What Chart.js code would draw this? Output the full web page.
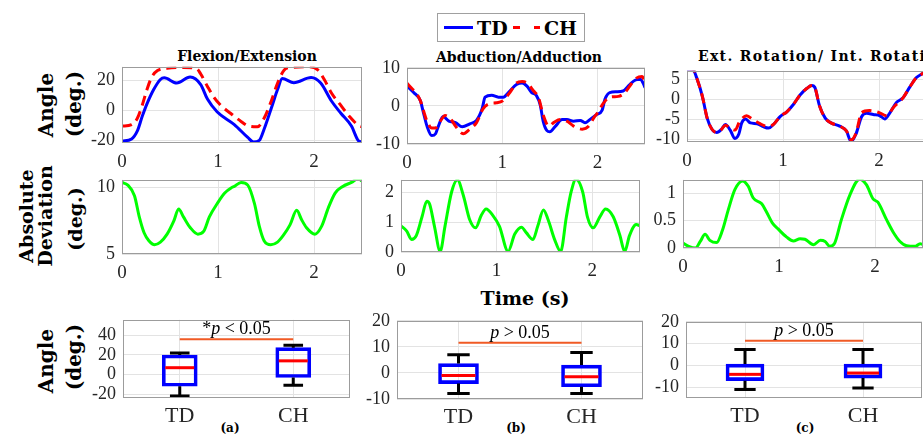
<!DOCTYPE html>
<html>
<head>
<meta charset="utf-8">
<script src="https://cdn.jsdelivr.net/npm/chart.js@4.4.1/dist/chart.umd.min.js"></script>
<style>
  body { margin: 0; background: #fff; }
  #fig { position: relative; width: 923px; height: 435px; overflow: hidden; background: #fff; }
  .lbl { position: absolute; white-space: nowrap; font-family: 'DejaVu Serif', serif; font-weight: bold; color: #000; transform: translate(-50%, -50%); line-height: 1; }
  .rot { transform: translate(-50%, -50%) rotate(-90deg); }
  #legend { position: absolute; left: 437px; top: 13px; width: 146px; height: 27px; border: 1px solid #a0a0a0; background: #fff; }
  #legend .sw { position: absolute; top: 12px; height: 0; }
  #legend .tx { position: absolute; top: 0; line-height: 28px; font-family: 'DejaVu Serif', serif; font-weight: bold; font-size: 19px; }
</style>
</head>
<body>
<div id="fig">
  <div id="legend">
    <span class="sw" style="left:6px;width:29px;border-top:3px solid #0000ff"></span>
    <span class="tx" style="left:39px">TD</span>
    <span class="sw" style="left:75px;width:7px;border-top:3px solid #ff0000"></span>
    <span class="sw" style="left:96px;width:6px;border-top:3px solid #ff0000"></span>
    <span class="tx" style="left:106px">CH</span>
  </div>

  <div class="lbl" style="left:247px;top:56px;font-size:14px">Flexion/Extension</div>
  <div class="lbl" style="left:519px;top:57px;font-size:14px">Abduction/Adduction</div>
  <div class="lbl" style="left:698px;top:56px;font-size:14px;letter-spacing:1.3px;transform:translate(0,-50%)">Ext. Rotation/ Int. Rotation</div>

  <div class="lbl rot" style="left:46px;top:105px;font-size:20px">Angle</div>
  <div class="lbl rot" style="left:74px;top:104px;font-size:20px">(deg.)</div>
  <div class="lbl rot" style="left:26px;top:216px;font-size:19px">Absolute</div>
  <div class="lbl rot" style="left:45px;top:216px;font-size:19px">Deviation</div>
  <div class="lbl rot" style="left:75px;top:219px;font-size:19px">(deg.)</div>
  <div class="lbl rot" style="left:46px;top:361px;font-size:20px">Angle</div>
  <div class="lbl rot" style="left:74px;top:357px;font-size:20px">(deg.)</div>

  <div class="lbl" style="left:525px;top:298px;font-size:19px">Time (s)</div>
  <div class="lbl" style="left:230px;top:428px;font-size:12px">(a)</div>
  <div class="lbl" style="left:516px;top:428px;font-size:12px">(b)</div>
  <div class="lbl" style="left:805px;top:428px;font-size:12px">(c)</div>
</div>

<script>
// ---- data ----
const timeTicks = [0, 1, 2];
const groups = ['TD', 'CH'];

// Flexion/Extension angle
const flexTimeTD = [0, 0.1, 0.16, 0.21, 0.26, 0.33, 0.4, 0.44, 0.57, 0.71, 0.82, 0.89, 0.99, 1.17, 1.31, 1.37, 1.43, 1.48, 1.52, 1.57, 1.62, 1.67, 1.79, 1.97, 2.07, 2.18, 2.28, 2.39, 2.46, 2.5];
const flexTD = [-20.5, -19, -13.7, -4.2, 4.2, 13.7, 20.4, 21.5, 18, 22, 17, 7.4, -1, -9.5, -18, -21, -20, -12.6, -5.3, 4.2, 13.7, 21, 18.3, 21.7, 18, 6.3, -2, -10.5, -20, -21];
const flexTimeCH = [0, 0.1, 0.16, 0.21, 0.26, 0.31, 0.37, 0.47, 0.64, 0.78, 0.82, 0.89, 0.96, 1.03, 1.13, 1.24, 1.32, 1.41, 1.48, 1.55, 1.62, 1.69, 1.76, 1.93, 2.04, 2.11, 2.18, 2.28, 2.37, 2.46, 2.5];
const flexCH = [-10.5, -9.5, -5.3, 3.2, 13.7, 22, 26.3, 27.8, 28.4, 27.4, 24, 15.8, 8.4, 3.2, -2, -7.4, -10.5, -11, -5.3, 5.3, 17.9, 26.7, 28.4, 28.8, 26.7, 20, 11.6, 3.2, -4.2, -9.9, -11];

// Abduction/Adduction angle
const abdTimeTD = [0, 0.07, 0.14, 0.17, 0.21, 0.26, 0.3, 0.33, 0.38, 0.44, 0.51, 0.58, 0.66, 0.73, 0.79, 0.82, 0.89, 0.96, 1.01, 1.08, 1.15, 1.21, 1.26, 1.31, 1.36, 1.4, 1.43, 1.47, 1.5, 1.56, 1.63, 1.68, 1.75, 1.82, 1.87, 1.92, 1.99, 2.05, 2.08, 2.13, 2.2, 2.27, 2.34, 2.4, 2.45, 2.48, 2.5];
const abdTD = [5.2, 3.5, 1.4, -1.5, -5.3, -7.8, -7.3, -5.3, -2.8, -4, -4.4, -5.5, -4.7, -3.8, -0.7, 2.3, 2.8, 2.3, 2.3, 3.9, 5.6, 6, 5.2, 3.5, 2.7, 0.2, -4, -6.5, -6.8, -5.3, -3.6, -3.6, -4, -3.8, -4.4, -3.6, -2.3, -1.1, 1.8, 3.5, 3.7, 3.9, 5.6, 6.8, 7, 6, 4.8];
const abdTimeCH = [0, 0.14, 0.17, 0.21, 0.26, 0.3, 0.35, 0.4, 0.45, 0.51, 0.56, 0.59, 0.66, 0.73, 0.8, 0.87, 0.94, 1.01, 1.08, 1.15, 1.21, 1.26, 1.33, 1.38, 1.43, 1.49, 1.54, 1.61, 1.68, 1.75, 1.84, 1.91, 1.96, 2.01, 2.06, 2.13, 2.22, 2.29, 2.34, 2.41, 2.47, 2.5];
const abdCH = [6, 1.4, -1, -4, -5.8, -5.8, -4, -2.5, -3.2, -5.3, -6.9, -7.3, -6.1, -4.4, -0.7, 0.6, 0.8, 1.4, 3.5, 6, 6.4, 6, 3.9, 2.3, -2.3, -5.3, -4.4, -3.6, -4, -5.3, -6.1, -5.3, -3.2, -1.5, 0.6, 2.3, 2.5, 3.5, 5.2, 7.3, 7.7, 6];

// Ext./Int. rotation angle
const rotTimeTD = [0, 0.07, 0.1, 0.16, 0.21, 0.26, 0.31, 0.36, 0.4, 0.45, 0.5, 0.54, 0.57, 0.61, 0.66, 0.73, 0.8, 0.85, 0.9, 0.97, 1.04, 1.11, 1.18, 1.25, 1.3, 1.33, 1.38, 1.44, 1.5, 1.59, 1.66, 1.71, 1.76, 1.82, 1.87, 1.94, 2.01, 2.06, 2.11, 2.18, 2.25, 2.32, 2.39, 2.44, 2.5];
const rotTD = [7.5, 7.2, 5.5, 0.8, -4.7, -7.5, -8.3, -7.5, -6.3, -7.7, -9.8, -8.7, -5.9, -4.9, -5.9, -6.1, -6.9, -7.2, -6.3, -4.3, -3.1, -1.2, 1.2, 2.8, 3.5, 3.1, -1.6, -4.7, -5.9, -6.7, -7.9, -10.6, -8.7, -4.3, -3.5, -3.8, -4.1, -4.9, -3.5, -0.8, 0.4, 3.1, 5.5, 6.3, 7];
const rotTimeCH = [0, 0.07, 0.1, 0.16, 0.21, 0.26, 0.31, 0.36, 0.4, 0.45, 0.5, 0.55, 0.62, 0.69, 0.76, 0.83, 0.9, 0.97, 1.04, 1.11, 1.18, 1.25, 1.3, 1.33, 1.38, 1.44, 1.5, 1.59, 1.66, 1.71, 1.76, 1.82, 1.9, 2.0, 2.08, 2.15, 2.25, 2.32, 2.39, 2.44, 2.5];
const rotCH = [7.7, 7.5, 5.5, 0.8, -4.7, -7.5, -8.3, -7.5, -6.5, -7.2, -7.7, -5.5, -4.1, -5.1, -6.1, -6.7, -6.3, -4.3, -3.1, -1.2, 1.2, 2.8, 3.5, 3.1, -1.6, -4.7, -5.9, -6.7, -7.9, -10.2, -8.5, -3.3, -2.8, -3.3, -4.1, -2, 0.4, 3.1, 5.5, 6.3, 7];

// absolute deviation between TD and CH
const flexDevTime = [0, 0.06, 0.13, 0.18, 0.23, 0.28, 0.34, 0.4, 0.47, 0.54, 0.59, 0.64, 0.71, 0.79, 0.85, 0.91, 1.0, 1.07, 1.14, 1.17, 1.24, 1.31, 1.38, 1.43, 1.48, 1.55, 1.62, 1.68, 1.75, 1.82, 1.87, 1.92, 2.01, 2.08, 2.15, 2.22, 2.3, 2.39, 2.46, 2.5];
const flexDev = [10.4, 10.2, 9.4, 7.8, 6.6, 6, 5.7, 5.9, 6.5, 7.5, 8.4, 7.8, 7, 6.5, 6.7, 7.8, 8.9, 9.6, 10, 10.1, 10.4, 10.2, 8.8, 7.1, 6, 5.7, 5.9, 6.4, 7.2, 8.3, 7.6, 7, 6.5, 7.1, 8.5, 9.6, 10.1, 10.4, 10.7, 10.5];
const abdDevTime = [0, 0.06, 0.11, 0.16, 0.22, 0.27, 0.3, 0.35, 0.41, 0.46, 0.53, 0.59, 0.65, 0.72, 0.78, 0.84, 0.89, 0.96, 1.03, 1.12, 1.19, 1.26, 1.31, 1.38, 1.43, 1.49, 1.54, 1.61, 1.67, 1.73, 1.78, 1.83, 1.9, 1.95, 2.01, 2.08, 2.14, 2.22, 2.29, 2.34, 2.39, 2.46, 2.5];
const abdDev = [0.88, 0.7, 0.42, 0.55, 1.18, 1.7, 1.6, 0.86, 0.02, 0.86, 2.02, 2.42, 1.92, 1.07, 0.81, 1.23, 1.44, 1.23, 0.86, 0.02, 0.6, 0.83, 0.65, 0.42, 0.86, 1.41, 1.07, 0.39, 0.02, 1.18, 2.02, 2.44, 2.02, 1.18, 0.81, 1.18, 1.44, 1.18, 0.55, 0.02, 0.55, 0.92, 0.88];
const rotDevTime = [0, 0.06, 0.13, 0.18, 0.23, 0.28, 0.35, 0.41, 0.47, 0.54, 0.62, 0.68, 0.73, 0.82, 0.87, 0.93, 0.99, 1.08, 1.15, 1.22, 1.27, 1.36, 1.43, 1.48, 1.53, 1.58, 1.65, 1.74, 1.84, 1.91, 1.98, 2.03, 2.12, 2.19, 2.26, 2.33, 2.42, 2.47, 2.5];
const rotDev = [0.09, 0.03, 0, 0.12, 0.25, 0.14, 0.1, 0.32, 0.69, 1.07, 1.23, 1.13, 0.92, 0.81, 0.66, 0.46, 0.35, 0.2, 0.13, 0.17, 0.16, 0.06, 0.14, 0.12, 0.03, 0.09, 0.52, 0.98, 1.26, 1.16, 0.9, 0.84, 0.52, 0.29, 0.12, 0.04, 0.03, 0.08, 0.06];

// box plots: [min, q1, median, q3, max]
const flexBoxTD = [-22, -12, 7, 20, 22];
const flexBoxCH = [-11, -3, 14, 27.5, 30];
const abdBoxTD = [-7.9, -4.1, -1, 3.6, 7];
const abdBoxCH = [-7.9, -5.3, -1.5, 3, 7.8];
const rotBoxTD = [-10.9, -6.9, -4, 0.7, 7.4];
const rotBoxCH = [-10.2, -5.7, -3.4, 0.7, 7.4];
const pLineY = [36, 11.6, 11.4];

// y tick labels per panel
const flexTicks = [-20, 0, 20];
const abdTicks = [-10, 0, 10];
const rotTicks = [-10, -5, 0, 5];
const flexDevTicks = [5, 10];
const abdDevTicks = [0, 1, 2];
const rotDevTicks = [0, 0.5, 1];
const flexBoxTicks = [-20, 0, 20, 40];
const boxTicks = [-10, 0, 10, 20];

// ---- drawing ----
const SERIF = "'Liberation Serif', 'DejaVu Serif', serif";
const GRID = '#e3e3e3';
const TICK = '#262626';
const PAD = { l: 50, t: 14, r: 14, b: 34 };

function pts(ts, vs) { return ts.map((t, i) => ({ x: t, y: vs[i] })); }

function makeCanvas(rect) {
  const c = document.createElement('canvas');
  const w = rect[2] - rect[0] + PAD.l + PAD.r;
  const h = rect[3] - rect[1] + PAD.t + PAD.b;
  c.width = w; c.height = h;
  c.style.cssText = 'position:absolute;left:' + (rect[0] - PAD.l) + 'px;top:' + (rect[1] - PAD.t) + 'px;width:' + w + 'px;height:' + h + 'px';
  document.getElementById('fig').appendChild(c);
  return c;
}

const framePlugin = {
  id: 'frame',
  afterDraw(chart) {
    const a = chart.chartArea, ctx = chart.ctx;
    ctx.save();
    ctx.strokeStyle = '#9c9c9c';
    ctx.lineWidth = 1;
    ctx.strokeRect(Math.round(a.left) + 0.5, Math.round(a.top) + 0.5, Math.round(a.right - a.left) - 1, Math.round(a.bottom - a.top) - 1);
    ctx.restore();
  }
};

function yScale(min, max, ticks) {
  return {
    min: min, max: max, bounds: 'data',
    afterBuildTicks: s => { s.ticks = ticks.map(v => ({ value: v })); },
    afterFit: s => { s.width = PAD.l; },
    grid: { color: GRID, drawTicks: false },
    border: { display: false },
    ticks: { padding: 7, color: TICK, autoSkip: false, callback: v => String(v), font: { family: SERIF, size: 18 } }
  };
}

function lineChart(rect, yMin, yMax, yTicks, datasets) {
  new Chart(makeCanvas(rect), {
    type: 'line',
    data: { datasets: datasets },
    options: {
      responsive: false, animation: false, devicePixelRatio: 1,
      layout: { padding: { left: 0, top: PAD.t, right: PAD.r, bottom: 0 } },
      plugins: { legend: { display: false }, tooltip: { enabled: false } },
      elements: { point: { radius: 0 }, line: { cubicInterpolationMode: 'monotone', borderCapStyle: 'butt' } },
      scales: {
        x: {
          type: 'linear', min: 0, max: 2.5, bounds: 'data',
          afterBuildTicks: s => { s.ticks = timeTicks.map(v => ({ value: v })); },
          afterFit: s => { s.height = PAD.b; },
          grid: { color: GRID, drawTicks: false },
          border: { display: false },
          ticks: { padding: 8, color: TICK, autoSkip: false, maxRotation: 0, callback: v => String(v), font: { family: SERIF, size: 19 } }
        },
        y: yScale(yMin, yMax, yTicks)
      }
    },
    plugins: [framePlugin]
  });
}

// Chart.js paints the first dataset last, so CH goes first to sit on top of TD
function tdLine(ts, vs) { return { data: pts(ts, vs), borderColor: '#0000ff', borderWidth: 3 }; }
function chLine(ts, vs) { return { data: pts(ts, vs), borderColor: '#ff0000', borderWidth: 3, borderDash: [10, 6] }; }
function devLine(ts, vs) { return { data: pts(ts, vs), borderColor: '#00ff00', borderWidth: 3 }; }

function boxChart(rect, yMin, yMax, yTicks, boxes, pY, pText, boxW) {
  const boxPlugin = {
    id: 'boxExtras',
    afterDatasetsDraw(chart) {
      const ctx = chart.ctx, xs = chart.scales.x, ys = chart.scales.y;
      const cap = boxW * 0.28;
      ctx.save();
      boxes.forEach((b, i) => {
        const x = xs.getPixelForValue(i);
        ctx.strokeStyle = '#000';
        ctx.lineWidth = 3;
        ctx.beginPath();
        ctx.moveTo(x, ys.getPixelForValue(b[3])); ctx.lineTo(x, ys.getPixelForValue(b[4]));
        ctx.moveTo(x - cap, ys.getPixelForValue(b[4])); ctx.lineTo(x + cap, ys.getPixelForValue(b[4]));
        ctx.moveTo(x, ys.getPixelForValue(b[1])); ctx.lineTo(x, ys.getPixelForValue(b[0]));
        ctx.moveTo(x - cap, ys.getPixelForValue(b[0])); ctx.lineTo(x + cap, ys.getPixelForValue(b[0]));
        ctx.stroke();
        ctx.strokeStyle = '#ff0000';
        ctx.beginPath();
        ctx.moveTo(x - boxW / 2 + 3, ys.getPixelForValue(b[2]));
        ctx.lineTo(x + boxW / 2 - 3, ys.getPixelForValue(b[2]));
        ctx.stroke();
      });
      // significance bar
      const x0 = xs.getPixelForValue(0), x1 = xs.getPixelForValue(1), y = ys.getPixelForValue(pY);
      ctx.strokeStyle = '#f05a24';
      ctx.lineWidth = 2;
      ctx.beginPath(); ctx.moveTo(x0, y); ctx.lineTo(x1, y); ctx.stroke();
      ctx.fillStyle = '#000';
      ctx.textBaseline = 'alphabetic';
      const fonts = pText.map(p => (p[1] ? 'italic ' : '') + '18px ' + SERIF);
      let total = 0;
      pText.forEach((p, k) => { ctx.font = fonts[k]; total += ctx.measureText(p[0]).width; });
      let cx = (x0 + x1) / 2 - total / 2;
      pText.forEach((p, k) => { ctx.font = fonts[k]; ctx.fillText(p[0], cx, y - 5); cx += ctx.measureText(p[0]).width; });
      ctx.restore();
    }
  };
  new Chart(makeCanvas(rect), {
    type: 'bar',
    data: {
      labels: groups,
      datasets: [{
        data: boxes.map(b => [b[1], b[3]]),
        backgroundColor: 'rgba(0,0,0,0)', borderColor: '#0000ff', borderWidth: 3,
        borderSkipped: false, barThickness: boxW
      }]
    },
    options: {
      responsive: false, animation: false, devicePixelRatio: 1,
      layout: { padding: { left: 0, top: PAD.t, right: PAD.r, bottom: 0 } },
      plugins: { legend: { display: false }, tooltip: { enabled: false } },
      scales: {
        x: {
          type: 'category', offset: true,
          afterFit: s => { s.height = PAD.b; },
          grid: { color: GRID, drawTicks: false, offset: false },
          border: { display: false },
          ticks: { padding: 5, color: TICK, autoSkip: false, font: { family: SERIF, size: 22 } }
        },
        y: yScale(yMin, yMax, yTicks)
      }
    },
    plugins: [framePlugin, boxPlugin]
  });
}

// row 1: joint angles
lineChart([122, 63, 362, 143], -21.7, 28.8, flexTicks, [chLine(flexTimeCH, flexCH), tdLine(flexTimeTD, flexTD)]);
lineChart([407, 64, 645, 144], -10, 10, abdTicks, [chLine(abdTimeCH, abdCH), tdLine(abdTimeTD, abdTD)]);
lineChart([687, 67, 927, 142], -10.7, 7.2, rotTicks, [chLine(rotTimeCH, rotCH), tdLine(rotTimeTD, rotTD)]);

// row 2: absolute deviation
lineChart([122, 176, 362, 254], 5, 10.6, flexDevTicks, [devLine(flexDevTime, flexDev)]);
lineChart([401, 176, 640, 252], 0, 2.42, abdDevTicks, [devLine(abdDevTime, abdDev)]);
lineChart([683, 176, 923, 248], 0, 1.25, rotDevTicks, [devLine(rotDevTime, rotDev)]);

// row 3: box plots
boxChart([123, 316, 350, 398], -24, 56, flexBoxTicks, [flexBoxTD, flexBoxCH], pLineY[0], [['*', false], ['p', true], [' < 0.05', false]], 35);
boxChart([397, 317, 643, 399], -10, 20, boxTicks, [abdBoxTD, abdBoxCH], pLineY[1], [['p', true], [' > 0.05', false]], 40);
boxChart([686, 318, 922, 398], -14.8, 20, boxTicks, [rotBoxTD, rotBoxCH], pLineY[2], [['p', true], [' > 0.05', false]], 38);
</script>
</body>
</html>
